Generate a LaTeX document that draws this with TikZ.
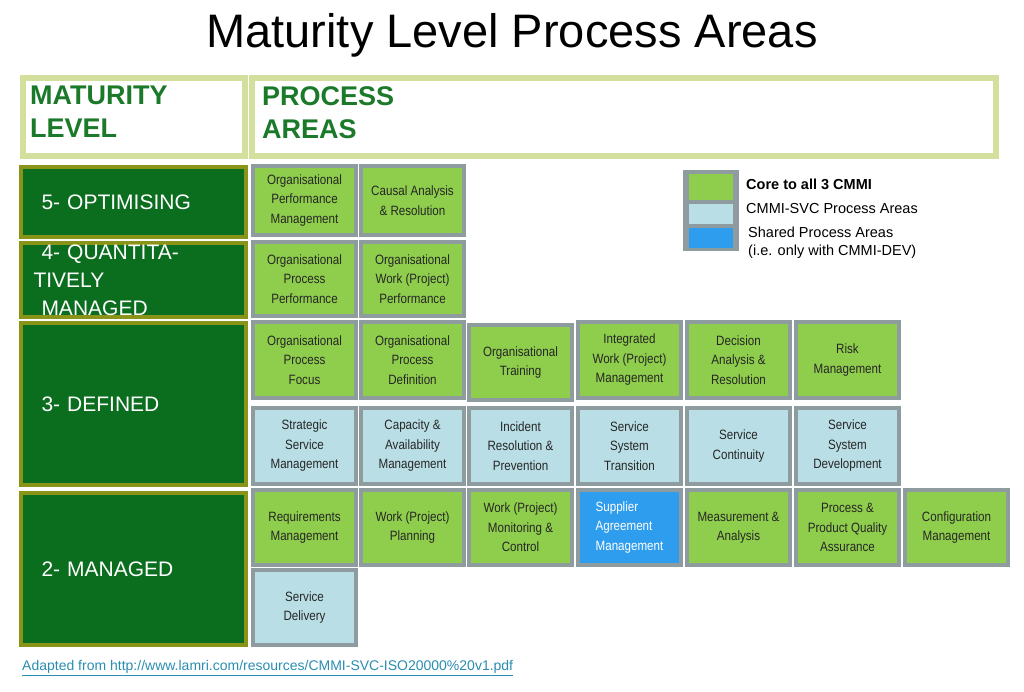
\documentclass[tikz,border=0pt]{standalone}
\usepackage{fontspec}
\setmainfont{Liberation Sans}
\newfontfamily\narrowf[FakeStretch=0.86]{Liberation Sans}
\definecolor{frame}{HTML}{D3DF9C}
\definecolor{hdr}{HTML}{1B7A2A}
\definecolor{olive}{HTML}{8A9418}
\definecolor{dgreen}{HTML}{0B6E1F}
\definecolor{pgreen}{HTML}{8FCE4C}
\definecolor{pblue}{HTML}{B9DEE5}
\definecolor{sblue}{HTML}{2F9DEE}
\definecolor{pgray}{HTML}{8E9CA0}
\definecolor{linkc}{HTML}{2A8DB0}
\tikzset{
 pa/.style={draw=pgray, line width=3.5pt, inner sep=0pt, align=center, font=\narrowf\fontsize{13.5}{19.5}\selectfont, text=black!85},
 lvl/.style={draw=olive, fill=dgreen, line width=4pt, inner sep=0pt, align=left, text=white, font=\fontsize{21}{28}\selectfont, text width=200pt, anchor=north west},
 hd/.style={draw=frame, fill=white, line width=6pt, anchor=north west, inner sep=0pt, align=left, text=hdr, font=\bfseries\fontsize{27}{33}\selectfont},
 leg/.style={anchor=west, inner sep=0pt, align=left, font=\fontsize{14.5}{18}\selectfont}
}
\newcommand{\pabox}[7]{\node[pa, fill=#6, minimum width=#4-#2, minimum height=#5-#3] (#1) at ({(#2+#4)/2},{-(#3+#5)/2}) {#7};}
\begin{document}
\begin{tikzpicture}[x=1pt,y=1pt]
\useasboundingbox (0,0) rectangle (1024,-692);
\node[font=\fontsize{47}{50}\selectfont] (title) at (512,-35) {Maturity Level Process Areas};
% header
\node[hd, minimum width=222, minimum height=78] (hl) at (20,-75) {};
\node[hd, minimum width=744, minimum height=78] (hr) at (249,-75) {};
\node[anchor=north west, inner sep=0pt, align=left, text=hdr, font=\bfseries\fontsize{27}{33}\selectfont] (hlt) at (30,-86) {MATURITY\\LEVEL};
\node[anchor=north west, inner sep=0pt, align=left, text=hdr, font=\bfseries\fontsize{27}{33}\selectfont] (hrt) at (262,-86) {PROCESS\\AREAS};
% levels
\node[lvl, minimum width=225, minimum height=70] (l5) at (19,-165) {\hspace*{8pt}5- OPTIMISING};
\node[lvl, minimum width=225, minimum height=74] (l4) at (19,-241) {\hspace*{8pt}4- QUANTITATIVELY\\\hspace*{8pt}MANAGED};
\node[lvl, minimum width=225, minimum height=162] (l3) at (19,-321) {\hspace*{8pt}3- DEFINED};
\node[lvl, minimum width=225, minimum height=152] (l2) at (19,-491) {\hspace*{8pt}2- MANAGED};
% row 5
\pabox{a1}{253}{166}{356}{235}{pgreen}{Organisational\\Performance\\Management}
\pabox{a2}{361}{166}{464}{235}{pgreen}{Causal Analysis\\\& Resolution}
% row 4
\pabox{b1}{253}{242}{356}{316}{pgreen}{Organisational\\Process\\Performance}
\pabox{b2}{361}{242}{464}{316}{pgreen}{Organisational\\Work (Project)\\Performance}
% row 3a
\pabox{c1}{253}{322}{356}{398}{pgreen}{Organisational\\Process\\Focus}
\pabox{c2}{361}{322}{464}{398}{pgreen}{Organisational\\Process\\Definition}
\pabox{c3}{469}{325}{572}{400}{pgreen}{Organisational\\Training}
\pabox{c4}{578}{322}{681}{398}{pgreen}{Integrated\\Work (Project)\\Management}
\pabox{c5}{687}{322}{790}{398}{pgreen}{Decision\\Analysis \&\\Resolution}
\pabox{c6}{796}{322}{899}{398}{pgreen}{Risk\\Management}
% row 3b
\pabox{d1}{253}{408}{356}{484}{pblue}{Strategic\\Service\\Management}
\pabox{d2}{361}{408}{464}{484}{pblue}{Capacity \&\\Availability\\Management}
\pabox{d3}{469}{408}{572}{484}{pblue}{Incident\\Resolution \&\\Prevention}
\pabox{d4}{578}{408}{681}{484}{pblue}{Service\\System\\Transition}
\pabox{d5}{687}{408}{790}{484}{pblue}{Service\\Continuity}
\pabox{d6}{796}{408}{899}{484}{pblue}{Service\\System\\Development}
% row 2a
\pabox{e1}{253}{490}{356}{565}{pgreen}{Requirements\\Management}
\pabox{e2}{361}{490}{464}{565}{pgreen}{Work (Project)\\Planning}
\pabox{e3}{469}{490}{572}{565}{pgreen}{Work (Project)\\Monitoring \&\\Control}
\node[pa, fill=sblue, text=white, minimum width=103, minimum height=75, align=left] (e4) at (629.5,-527.5) {Supplier\\Agreement\\Management};
\pabox{e5}{687}{490}{790}{565}{pgreen}{Measurement \&\\Analysis}
\pabox{e6}{796}{490}{899}{565}{pgreen}{Process \&\\Product Quality\\Assurance}
\pabox{e7}{905}{490}{1008}{565}{pgreen}{Configuration\\Management}
% row 2b
\pabox{f1}{253}{570}{356}{645}{pblue}{Service\\Delivery}
% legend
\fill[pgray] (683,-170) rectangle (739,-251);
\fill[pgreen] (689,-174) rectangle (733,-200);
\fill[pblue] (689,-204) rectangle (733,-224);
\fill[sblue] (689,-228) rectangle (733,-248);
\node[leg, font=\bfseries\fontsize{14.5}{18}\selectfont] (g1) at (746,-184) {Core to all 3 CMMI};
\node[leg] (g2) at (746,-209) {CMMI-SVC Process Areas};
\node[leg, anchor=north west] (g3) at (748,-227) {Shared Process Areas\\(i.e. only with CMMI-DEV)};
% link
\node[anchor=west, inner sep=0pt, text=linkc, font=\fontsize{14}{16}\selectfont] (lnk) at (22,-668) {\underline{Adapted from http://www.lamri.com/resources/CMMI-SVC-ISO20000\%20v1.pdf}};
\end{tikzpicture}
\end{document}
